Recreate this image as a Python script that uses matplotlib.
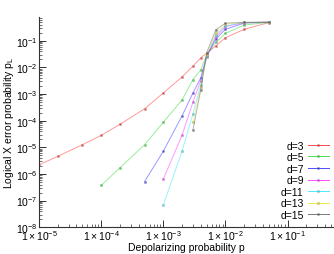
import matplotlib
matplotlib.use("Agg")
import matplotlib.pyplot as plt
from matplotlib.ticker import LogLocator, FixedLocator, NullFormatter
import numpy as np

plt.rcParams['font.family'] = ['Liberation Sans', 'DejaVu Sans']
plt.rcParams['mathtext.fontset'] = 'custom'
plt.rcParams['mathtext.rm'] = 'Liberation Sans'
plt.rcParams['mathtext.it'] = 'Liberation Sans:italic'

# depolarizing probability grid for each distance
p3 = [1e-5, 2e-5, 5e-5, 1e-4, 2e-4, 5e-4, 1e-3, 2e-3, 3e-3, 4e-3, 5e-3, 7e-3, 1e-2, 2e-2, 5e-2]
pl3 = [2.2e-6, 4.6e-6, 1.26e-5, 2.8e-5, 7.3e-5, 2.8e-4, 1.1e-3, 4.4e-3, 1.1e-2, 2.3e-2, 3.4e-2, 6.5e-2, 0.13, 0.27, 0.48]

p5 = [1e-4, 2e-4, 5e-4, 1e-3, 2e-3, 3e-3, 4e-3, 5e-3, 7e-3, 1e-2, 2e-2, 5e-2]
pl5 = [3.7e-7, 1.7e-6, 1.26e-5, 8.7e-5, 6e-4, 3.5e-3, 8e-3, 3.0e-2, 8.7e-2, 0.19, 0.39, 0.49]

p7 = [5e-4, 1e-3, 2e-3, 3e-3, 4e-3, 5e-3, 7e-3, 1e-2, 2e-2, 5e-2]
pl7 = [5.2e-7, 7.1e-6, 1.5e-4, 1.1e-3, 4e-3, 2.7e-2, 0.115, 0.27, 0.46, 0.5]

p9 = [1e-3, 2e-3, 3e-3, 4e-3, 5e-3, 7e-3, 1e-2, 2e-2, 5e-2]
pl9 = [6.4e-7, 2.8e-5, 4.9e-4, 3.2e-3, 2.4e-2, 0.14, 0.34, 0.48, 0.5]

p11 = [1e-3, 2e-3, 3e-3, 4e-3, 5e-3, 7e-3, 1e-2, 2e-2, 5e-2]
pl11 = [6.8e-8, 7.1e-6, 1.8e-4, 2.2e-3, 2.6e-2, 0.17, 0.36, 0.49, 0.5]

p13 = [3e-3, 4e-3, 5e-3, 7e-3, 1e-2, 2e-2, 5e-2]
pl13 = [8.7e-5, 1.8e-3, 3.0e-2, 0.20, 0.42, 0.49, 0.5]

p15 = [3e-3, 4e-3, 5e-3, 7e-3, 1e-2, 2e-2, 5e-2]
pl15 = [4.5e-5, 1.4e-3, 3.6e-2, 0.26, 0.46, 0.49, 0.5]

series = [
    ("d=3", p3, pl3, "#ff0000"),
    ("d=5", p5, pl5, "#00d000"),
    ("d=7", p7, pl7, "#0000ff"),
    ("d=9", p9, pl9, "#ff00ff"),
    ("d=11", p11, pl11, "#00e0ff"),
    ("d=13", p13, pl13, "#e8e000"),
    ("d=15", p15, pl15, "#404040"),
]

xticks = [1e-5, 1e-4, 1e-3, 1e-2, 1e-1]
xticklabels = [r"$1\times10^{-5}$", r"$1\times10^{-4}$", r"$1\times10^{-3}$",
               r"$1\times10^{-2}$", r"$1\times10^{-1}$"]
yticks = [1e-8, 1e-7, 1e-6, 1e-5, 1e-4, 1e-3, 1e-2, 1e-1]
yticklabels = [r"$10^{-%d}$" % k for k in range(8, 0, -1)]

fig = plt.figure(figsize=(3.34, 2.55), dpi=100)
ax = fig.add_axes([0.117, 0.105, 0.88, 0.824])

for label, p, pl, c in series:
    ax.plot(p, pl, color=c, lw=0.7, alpha=0.4)
    ax.plot(p, pl, ls="none", marker="s", ms=2.0, mfc=c, mec="#a0a0a0", mew=0.4, alpha=0.7)
    ax.plot([], [], color=c, lw=0.7, marker="s", ms=2.0, mfc=c, mec="#a0a0a0",
            mew=0.4, alpha=0.7, label=label)

ax.set_xscale("log")
ax.set_yscale("log")
ax.set_xlim(1e-5, 0.54)
ax.set_ylim(1e-8, 0.775)

ax.xaxis.set_major_locator(FixedLocator(xticks))
ax.set_xticklabels(xticklabels)
ax.yaxis.set_major_locator(FixedLocator(yticks))
ax.set_yticklabels(yticklabels)
ax.xaxis.set_minor_locator(LogLocator(base=10, subs=np.arange(2, 10), numticks=20))
ax.yaxis.set_minor_locator(LogLocator(base=10, subs=np.arange(2, 10), numticks=20))
ax.xaxis.set_minor_formatter(NullFormatter())
ax.yaxis.set_minor_formatter(NullFormatter())

for s in ("top", "right"):
    ax.spines[s].set_visible(False)
for s in ("left", "bottom"):
    ax.spines[s].set_linewidth(0.8)
    ax.spines[s].set_color("#333333")

ax.tick_params(which="major", direction="in", length=5, width=0.7,
               labelsize=7.5, pad=1, colors="#333333", labelcolor="black")
ax.tick_params(which="minor", direction="in", length=2.5, width=0.5, colors="#333333")

ax.set_xlabel("Depolarizing probability p", fontsize=7.5, labelpad=0)
ax.set_ylabel(r"Logical X error probability p$_\mathregular{L}$", fontsize=7.5, labelpad=0)

ax.legend(loc="lower right", bbox_to_anchor=(1.0, 0.015), frameon=False,
          markerfirst=False, fontsize=7.5, handlelength=2.0, handletextpad=0.4,
          labelspacing=0.15, borderaxespad=0)

fig.savefig("out.png", dpi=100)
